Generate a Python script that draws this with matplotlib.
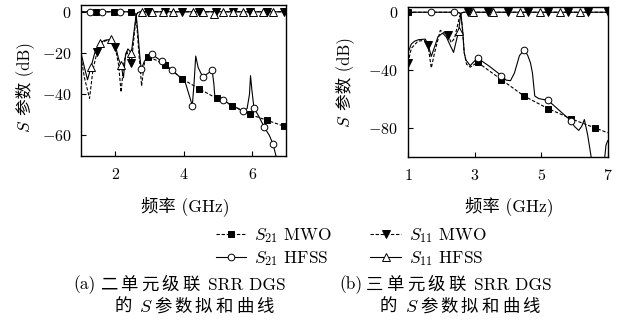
import matplotlib
matplotlib.use("Agg")
import matplotlib.pyplot as plt
from matplotlib.lines import Line2D

plt.rcParams['font.family'] = ['cmr10', 'Noto Sans CJK SC']
plt.rcParams['mathtext.fontset'] = 'cm'
plt.rcParams['axes.unicode_minus'] = False

# ---------------- (a) two-cell SRR DGS ----------------
a_s21_hfss_x = [1.0, 2.5, 2.56, 2.61, 2.66, 2.72, 2.76, 2.85, 2.95, 3.07, 3.36, 3.65, 3.94, 4.04,
                4.15, 4.25, 4.3, 4.35, 4.42, 4.55, 4.7, 4.83, 4.88, 4.91, 5.16, 5.42, 5.72, 5.85,
                5.92, 5.95, 5.99, 6.05, 6.2, 6.35, 6.5, 6.61, 6.71]
a_s21_hfss_y = [0, 0, -0.5, -1.5, -10, -22, -28, -24, -22, -20.7, -24, -28.3, -32.4, -34,
                -40, -45.5, -35, -21.5, -27, -31.5, -30, -28.3, -35, -41.7, -43, -45.5, -48.2, -47,
                -40, -31, -38, -46.6, -51, -56, -60, -64.4, -71]
a_s21_hfss_mx = [1.25, 1.6, 2.15, 2.76, 3.07, 3.36, 3.65, 4.25, 4.55, 4.83, 5.16, 5.72, 6.05, 6.35, 6.61]
a_s21_hfss_my = [0, 0, 0, -28, -20.7, -24, -28.3, -45.5, -31.5, -28.3, -43, -48.2, -46.6, -56, -64.4]

a_s21_mwo_x = [1.0, 2.5, 2.56, 2.61, 2.68, 2.77, 2.85, 2.95, 3.2, 3.46, 3.7, 3.94, 4.45, 4.96,
               5.42, 5.93, 6.42, 6.92, 7.0]
a_s21_mwo_y = [0, 0, -0.5, -1.5, -18, -36, -25, -22, -23.5, -26, -29, -32.4, -37.4, -42,
               -45.5, -49.8, -52.6, -55.5, -56]
a_s21_mwo_mx = [1.45, 1.95, 2.45, 2.95, 3.46, 3.94, 4.45, 4.96, 5.42, 5.93, 6.42, 6.92]
a_s21_mwo_my = [0, 0, 0, -22, -26, -32.4, -37.4, -42, -45.5, -49.8, -52.6, -55.5]

a_s11_hfss_x = [1.0, 1.1, 1.19, 1.29, 1.4, 1.56, 1.7, 1.88, 2.0, 2.1, 2.17, 2.24, 2.3, 2.37,
                2.47, 2.61, 2.66, 2.72, 7.0]
a_s11_hfss_y = [-20, -27, -33, -27, -20, -15, -13.8, -13.4, -16, -23, -26, -32, -21, -18,
                -20, -1.5, -0.4, 0, 0]
a_s11_hfss_mx = [1.29, 1.56, 1.88, 2.17, 2.47, 2.78, 3.07, 3.38, 3.68, 4.26, 4.55, 4.87, 5.16,
                 5.45, 5.74, 6.03, 6.32, 6.61]
a_s11_hfss_my = [-27, -15, -13.4, -26, -20, 0, 0, 0, 0, 0, 0, -1, 0, 0, 0, 0, 0, 0]

a_s11_mwo_x = [1.0, 1.1, 1.25, 1.35, 1.47, 1.6, 1.8, 2.0, 2.1, 2.17, 2.25, 2.33, 2.47, 2.55,
               2.61, 2.66, 2.72, 7.0]
a_s11_mwo_y = [-22, -32, -42, -28, -19.5, -15, -13.5, -17, -26, -39, -25, -19, -25, -12,
               -1.5, -0.4, 0, 0]
a_s11_mwo_mx = [1.47, 2.0, 2.47, 2.95, 3.45, 3.94, 4.45, 4.94, 5.45, 5.93, 6.42, 6.92]
a_s11_mwo_my = [-19.5, -17, -25, 0, 0, 0, 0, 0, 0, 0, 0, 0]

# ---------------- (b) three-cell SRR DGS ----------------
b_s21_hfss_x = [1.0, 2.4, 2.5, 2.55, 2.59, 2.64, 2.69, 2.74, 2.87, 2.95, 3.09, 3.45, 3.81, 3.95,
                4.08, 4.2, 4.35, 4.5, 4.6, 4.68, 4.74, 4.81, 4.93, 5.21, 5.5, 5.91, 6.0, 6.13,
                6.22, 6.3, 6.4, 6.51, 6.7, 6.91, 6.95, 7.0]
b_s21_hfss_y = [0, 0, -0.2, -0.5, -1, -12, -28, -33, -37, -35, -31.7, -37.5, -43.9, -47,
                -47.4, -42, -30, -26, -30, -35, -42, -58, -59.8, -61, -67, -75.4, -79, -81.8,
                -79, -74.3, -85, -101, -115, -101, -92, -89]
b_s21_hfss_mx = [1.69, 2.38, 3.09, 3.81, 4.5, 5.21, 5.91]
b_s21_hfss_my = [0, 0, -31.7, -43.9, -26, -61, -75.4]

b_s21_mwo_x = [1.0, 2.4, 2.5, 2.55, 2.59, 2.64, 2.69, 2.76, 2.87, 3.09, 3.81, 4.5, 5.21, 5.91,
               6.61, 7.0]
b_s21_mwo_y = [0, 0, -0.2, -0.5, -1, -12, -28, -36, -38, -34.7, -46.7, -58.2, -66.7, -73.8,
               -80, -83.4]
b_s21_mwo_mx = [1.0, 3.09, 3.81, 4.5, 5.21, 5.91, 6.61]
b_s21_mwo_my = [0, -34.7, -46.7, -58.2, -66.7, -73.8, -80]

b_s11_hfss_x = [1.0, 1.1, 1.2, 1.32, 1.52, 1.6, 1.7, 1.8, 1.9, 2.04, 2.15, 2.25, 2.37, 2.45,
                2.52, 2.56, 2.59, 2.63, 2.68, 7.0]
b_s11_hfss_y = [-28, -22, -20, -19, -18.6, -22, -30.6, -24, -17, -14.5, -17, -22, -27.8, -20,
                -13.3, -6, -0.7, -0.3, 0, 0]
b_s11_hfss_mx = [2.52, 2.95, 3.55, 4.37, 4.97, 5.57, 6.17]
b_s11_hfss_my = [-13.3, 0, 0, 0, 0, 0, 0]

b_s11_mwo_x = [1.0, 1.1, 1.3, 1.5, 1.6, 1.7, 1.8, 1.97, 2.19, 2.3, 2.4, 2.5, 2.55, 2.59, 2.63,
               2.68, 7.0]
b_s11_mwo_y = [-35, -25, -20, -19.5, -22.5, -38.6, -28, -12.6, -15.6, -21, -18, -8, -3, -0.7,
               -0.3, 0, 0]
b_s11_mwo_mx = [1.0, 1.6, 2.19, 2.8, 3.4, 4.0, 4.6, 5.21, 5.81, 6.41, 7.0]
b_s11_mwo_my = [-35, -22.5, -15.6, 0, 0, 0, 0, 0, 0, 0, 0]

x_ticks_a = [2, 4, 6]
y_ticks_a = [0, -20, -40, -60]
x_ticks_b = [1, 3, 5, 7]
y_ticks_b = [0, -40, -80]

legend_labels = [r'$S_{21}$ MWO', r'$S_{21}$ HFSS', r'$S_{11}$ MWO', r'$S_{11}$ HFSS']

DASH = (0, (3, 1.6))
styles = {
    's21_mwo': dict(ls=DASH, marker='s', mfc='black', ms=4.3),
    's21_hfss': dict(ls='-', marker='o', mfc='white', ms=4.8),
    's11_mwo': dict(ls=DASH, marker='v', mfc='black', ms=5.2),
    's11_hfss': dict(ls='-', marker='^', mfc='white', ms=5.2),
}

fig = plt.figure(figsize=(6.24, 3.24), dpi=100)
ax_a = fig.add_axes([0.1298, 0.5185, 0.3293, 0.4661])
ax_b = fig.add_axes([0.6538, 0.5164, 0.3200, 0.4610])


def draw(ax, series):
    for key, (lx, ly, mx, my) in series.items():
        st = styles[key]
        ax.plot(lx, ly, color='black', lw=0.8, ls=st['ls'], zorder=2)
        ax.plot(mx, my, ls='none', marker=st['marker'], ms=st['ms'], mfc=st['mfc'],
                mec='black', mew=0.7, zorder=3)


draw(ax_a, {
    's21_mwo': (a_s21_mwo_x, a_s21_mwo_y, a_s21_mwo_mx, a_s21_mwo_my),
    's21_hfss': (a_s21_hfss_x, a_s21_hfss_y, a_s21_hfss_mx, a_s21_hfss_my),
    's11_mwo': (a_s11_mwo_x, a_s11_mwo_y, a_s11_mwo_mx, a_s11_mwo_my),
    's11_hfss': (a_s11_hfss_x, a_s11_hfss_y, a_s11_hfss_mx, a_s11_hfss_my),
})
draw(ax_b, {
    's21_mwo': (b_s21_mwo_x, b_s21_mwo_y, b_s21_mwo_mx, b_s21_mwo_my),
    's21_hfss': (b_s21_hfss_x, b_s21_hfss_y, b_s21_hfss_mx, b_s21_hfss_my),
    's11_mwo': (b_s11_mwo_x, b_s11_mwo_y, b_s11_mwo_mx, b_s11_mwo_my),
    's11_hfss': (b_s11_hfss_x, b_s11_hfss_y, b_s11_hfss_mx, b_s11_hfss_my),
})

for ax, xt, yt, ylim in [(ax_a, x_ticks_a, y_ticks_a, (-70, 3.3)),
                         (ax_b, x_ticks_b, y_ticks_b, (-100, 3.4))]:
    ax.set_xlim(1, 7)
    ax.set_ylim(*ylim)
    ax.set_xticks(xt)
    ax.set_xticklabels([f'${v}$' for v in xt])
    ax.set_yticks(yt)
    ax.set_yticklabels([f'${v}$' for v in yt])
    ax.tick_params(direction='in', length=3.5, width=0.8, labelsize=11.5)
    ax.tick_params(axis='x', pad=8)
    ax.tick_params(axis='y', pad=7)
    for sp in ax.spines.values():
        sp.set_linewidth(1.0)

W, H = 624.0, 324.0
renderer = fig.canvas.get_renderer()


def run_v(xc, y0, parts, gap=5):
    # rotated pieces stacked bottom to top, y0 = pixel row of the lowest piece's bottom
    y = y0
    for s, size in parts:
        t = fig.text(xc / W, 1 - y / H, s, rotation=90, ha='center', va='bottom', fontsize=size)
        y -= t.get_window_extent(renderer).height + gap


def caption_row(yc, segments):
    # segments: (x start in px, text, size, per-character advance in px or None)
    for x0, s, size, adv in segments:
        if adv is None:
            fig.text(x0 / W, 1 - yc / H, s, ha='left', va='center', fontsize=size)
        else:
            for i, ch in enumerate(s):
                fig.text((x0 + i * adv) / W, 1 - yc / H, ch, ha='left', va='center', fontsize=size)


# axis labels (italic S as math text, Chinese as plain text)
run_v(25, 133, [(r'$S$', 12.5), ('参数 (dB)', 12)])
run_v(345, 128, [(r'$S$', 12.5), ('参数 (dB)', 12)])
for xc in [185, 509]:
    fig.text(xc / W, 1 - 206 / H, '频率 (GHz)', ha='center', va='center', fontsize=12.5)

handles = []
for key in ['s21_mwo', 's21_hfss', 's11_mwo', 's11_hfss']:
    st = styles[key]
    handles.append(Line2D([], [], color='black', lw=0.8, ls=st['ls'], marker=st['marker'],
                          ms=st['ms'], mfc=st['mfc'], mec='black', mew=0.7))
fig.legend(handles, legend_labels, ncol=2, loc='center', bbox_to_anchor=(0.563, 0.238),
           frameon=False, fontsize=12.5, handlelength=1.75, handletextpad=0.45,
           columnspacing=2.2, labelspacing=0.25, borderaxespad=0)

# captions
for dx, tag, num in [(0, '(a)', '二单元级联'), (266, '(b)', '三单元级联')]:
    caption_row(285, [(73 + dx, tag, 12.5, None), (100 + dx, num, 12.5, 20.5),
                      (208 + dx, 'SRR DGS', 12.5, None)])
    caption_row(307, [(114 + dx, '的', 12.5, 20.5), (139 + dx, r'$S$', 13, None),
                      (154 + dx, '参数拟和曲线', 12.5, 20.5)])

fig.savefig('out.png', dpi=100, facecolor='white')
